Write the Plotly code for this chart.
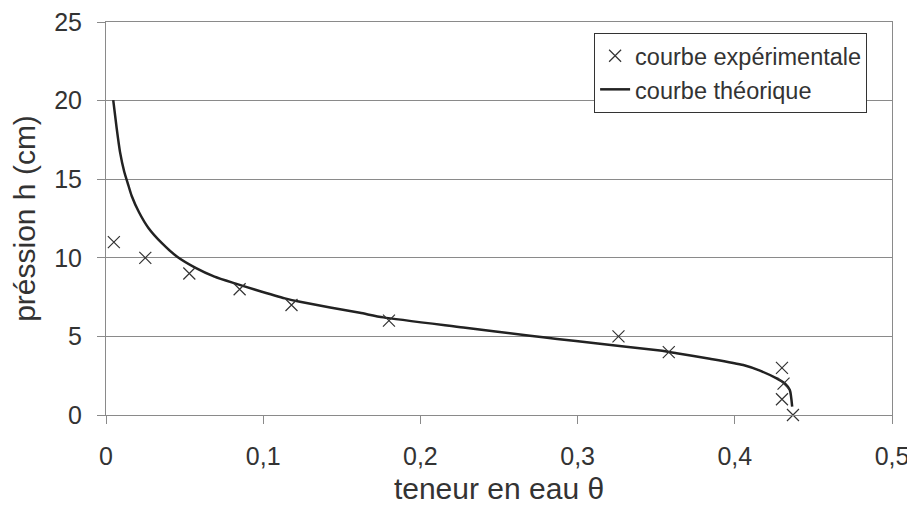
import plotly.graph_objects as go

# experimental points (teneur en eau, pression)
theta_exp = [0.005, 0.025, 0.053, 0.085, 0.118, 0.180, 0.326, 0.358, 0.430, 0.431, 0.430, 0.437]
h_exp = [11, 10, 9, 8, 7, 6, 5, 4, 3, 2, 1, 0]

# theoretical curve
theta_th = [0.0046, 0.0068, 0.0089, 0.0116, 0.0142, 0.0163, 0.0210, 0.0270, 0.0354, 0.0455,
            0.0570, 0.0690, 0.0820, 0.0950, 0.1138, 0.1234, 0.1615, 0.1764, 0.2273, 0.2697,
            0.2870, 0.3100, 0.3524, 0.3630, 0.3841, 0.4054, 0.4160, 0.4266, 0.4320, 0.4350,
            0.4365]
h_th = [20.03, 18.23, 16.74, 15.47, 14.62, 13.95, 12.90, 11.90, 10.95, 10.05,
        9.36, 8.80, 8.37, 7.97, 7.42, 7.20, 6.50, 6.21, 5.57, 5.04,
        4.84, 4.58, 4.10, 3.93, 3.58, 3.18, 2.82, 2.33, 2.00, 1.59,
        0.53]

x_ticks = [0, 0.1, 0.2, 0.3, 0.4, 0.5]
y_ticks = [0, 5, 10, 15, 20, 25]

txt = "#333333"
grid = "#8a8a8a"

fig = go.Figure()
fig.add_trace(go.Scatter(x=theta_th, y=h_th, mode="lines", name="courbe théorique",
                         line=dict(color="#222222", width=2.5, shape="spline", smoothing=0.6)))
fig.add_trace(go.Scatter(x=theta_exp, y=h_exp, mode="markers", name="courbe expérimentale",
                         cliponaxis=False,
                         marker=dict(symbol="x-thin", size=12, line=dict(width=1.2, color="#333333"))))

# page body adds 8px around the figure, so the figure is 8px smaller than the window
fig.update_layout(
    width=907, height=501,
    margin=dict(l=98, r=23, t=14, b=94),
    paper_bgcolor="white", plot_bgcolor="white",
    separators=", ",
    font=dict(family="Liberation Sans, Arial, sans-serif", size=25, color=txt),
    showlegend=True,
    legend=dict(x=0.621, y=0.972, xanchor="left", yanchor="top",
                bordercolor="#333333", borderwidth=1, bgcolor="white",
                font=dict(size=23.5, color=txt), tracegroupgap=0,
                traceorder="reversed", itemwidth=30),
)
fig.update_xaxes(range=[0, 0.5], tickvals=x_ticks, showgrid=False, zeroline=False,
                 showline=True, linecolor=grid, linewidth=1, mirror=True,
                 ticks="outside", ticklen=8, tickcolor=grid, ticklabelstandoff=11,
                 automargin=False,
                 title=dict(text="teneur en eau θ", standoff=8))
fig.update_yaxes(range=[0, 25.0001], tickvals=y_ticks, showgrid=True, gridcolor=grid, gridwidth=1,
                 zeroline=False, showline=True, linecolor=grid, linewidth=1, mirror=True,
                 ticks="outside", ticklen=8, tickcolor=grid, ticklabelstandoff=10,
                 automargin=False, ticklabeloverflow="allow",
                 title=dict(text="préssion h (cm)", standoff=10))

fig.write_html("out.html")
